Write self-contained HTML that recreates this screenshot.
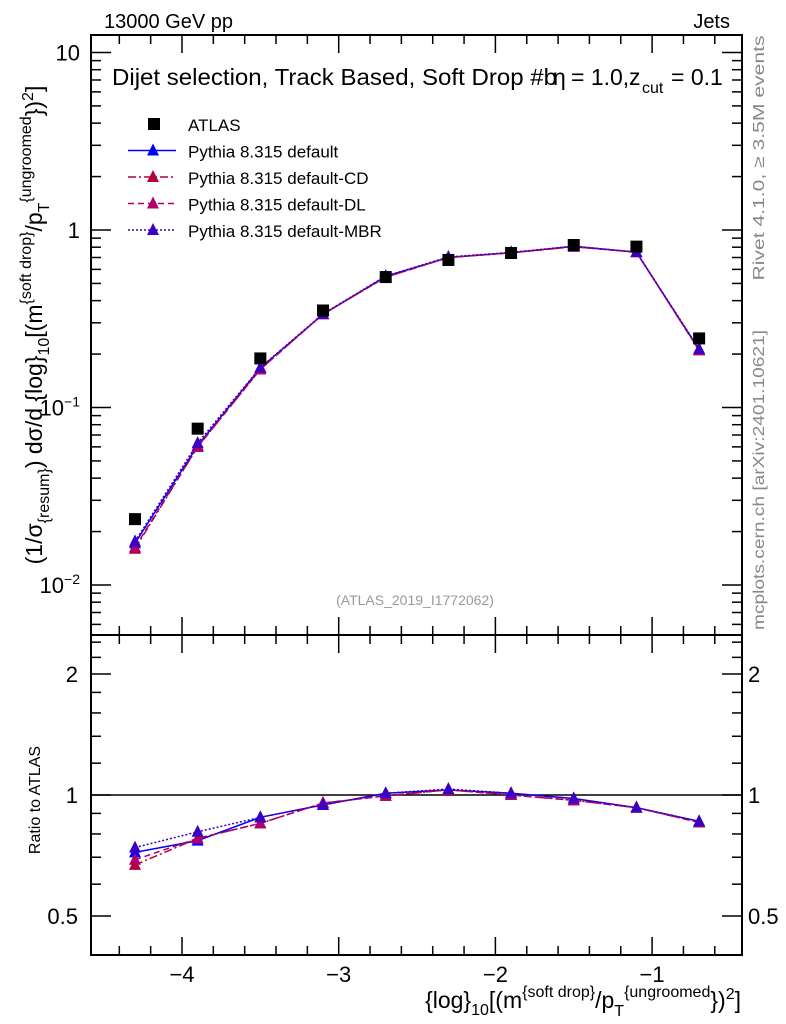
<!DOCTYPE html>
<html><head><meta charset="utf-8"><style>
body{margin:0;background:#fff;}
svg{display:block;font-family:"Liberation Sans",sans-serif;}
</style></head><body>
<svg id="c" width="786" height="1024" xmlns="http://www.w3.org/2000/svg"></svg>
<script>
const xCenters=[-4.3,-3.9,-3.5,-3.1,-2.7,-2.3,-1.9,-1.5,-1.1,-0.7];
const atlas=[0.0235,0.076,0.189,0.352,0.543,0.678,0.742,0.823,0.806,0.245];
const pyDefault=[0.0172,0.061,0.167,0.335,0.548,0.70,0.745,0.81,0.75,0.212];
const pyCD=[0.0160,0.060,0.164,0.336,0.542,0.70,0.744,0.805,0.75,0.210];
const pyDL=[0.0163,0.060,0.164,0.336,0.542,0.70,0.744,0.805,0.75,0.210];
const pyMBR=[0.0176,0.063,0.168,0.337,0.550,0.705,0.748,0.81,0.75,0.214];
const rDefault=[0.72,0.77,0.88,0.945,1.01,1.03,1.01,0.98,0.93,0.86];
const rCD=[0.67,0.78,0.85,0.955,0.995,1.03,1.0,0.97,0.93,0.855];
const rDL=[0.69,0.78,0.85,0.955,0.995,1.03,1.0,0.97,0.93,0.855];
const rMBR=[0.74,0.81,0.88,0.945,1.01,1.035,1.01,0.98,0.93,0.86];
const xTicks=[-4,-3,-2,-1];
const yTicks=[0.01,0.1,1,10];
const yTickLabels=["10\u22122","10\u22121","1","10"];
const rTicks=[0.5,1,2];

const NS="http://www.w3.org/2000/svg";
const svg=document.getElementById('c');
const L=91,R=742,T=35,M=635,B=955;
const X=v=>182+(v+4)*156.7;
const Y=v=>230-Math.log10(v)*177.5;
const RY=v=>795-Math.log2(v)*121;
function el(t,a,p){const e=document.createElementNS(NS,t);for(const k in a)e.setAttribute(k,a[k]);(p||svg).appendChild(e);return e;}
function txt(x,y,s,a,p){const e=el('text',Object.assign({x:x,y:y,'font-size':18},a||{}),p);e.textContent=s;return e;}

const f1=el('rect',{x:L,y:T,width:R-L,height:M-T,fill:'none',stroke:'#000','stroke-width':2});


const f2=el('rect',{x:L,y:M,width:R-L,height:B-M,fill:'none',stroke:'#000','stroke-width':2});



for(let k=-22;k<=-3;k++){const v=k/5;
  const major=(k%5===0);
  const x=X(v);if(x<L||x>R)continue;const h=major?18:9;
  el('line',{x1:x,x2:x,y1:M,y2:M-h,stroke:'#000','stroke-width':1.5});
  el('line',{x1:x,x2:x,y1:T,y2:T+h,stroke:'#000','stroke-width':1.5});
  el('line',{x1:x,x2:x,y1:B,y2:B-h,stroke:'#000','stroke-width':1.5});
  el('line',{x1:x,x2:x,y1:M,y2:M+h,stroke:'#000','stroke-width':1.5});
}
xTicks.forEach(v=>{const t=txt(X(v),982,'\u2212'+Math.abs(v),{'text-anchor':'middle','font-size':22});
});

for(let d=-3;d<=1;d++){for(let m=1;m<10;m++){const v=m*Math.pow(10,d);const y=Y(v);if(y<T||y>M)continue;
 const h=m==1?20:10;
 el('line',{x1:L,x2:L+h,y1:y,y2:y,stroke:'#000','stroke-width':1.5});
 el('line',{x1:R,x2:R-h,y1:y,y2:y,stroke:'#000','stroke-width':1.5});}}
yTicks.forEach((v,i)=>{const y=Y(v)+8;let t;
 if(i<2){t=txt(80,y,'10',{'text-anchor':'end','font-size':22});const s=el('tspan',{dy:-9,'font-size':14},t);s.textContent=i==0?'\u22122':'\u22121';}
 else t=txt(80,y,yTickLabels[i],{'text-anchor':'end','font-size':22});
 });

[0.4,0.5,0.6,0.7,0.8,0.9,1,1.2,1.4,1.6,1.8,2,2.2,2.4].forEach(v=>{const y=RY(v);const maj=rTicks.includes(v);const h=maj?20:10;
 el('line',{x1:L,x2:L+h,y1:y,y2:y,stroke:'#000','stroke-width':1.5});
 el('line',{x1:R,x2:R-h,y1:y,y2:y,stroke:'#000','stroke-width':1.5});});
rTicks.forEach(v=>{const a=txt(78,RY(v)+8,String(v),{'text-anchor':'end','font-size':22});

const b=txt(748,RY(v)+8,String(v),{'font-size':22,fill:'#000'});
});
el('line',{x1:L,x2:R,y1:RY(1),y2:RY(1),stroke:'#000','stroke-width':1.5});

const series=[
 {n:'default',m:pyDefault,r:rDefault,c:'#0000ff',d:''},
 {n:'cd',m:pyCD,r:rCD,c:'#b0003c',d:'8,3,2,3'},
 {n:'dl',m:pyDL,r:rDL,c:'#b0006a',d:'6,4'},
 {n:'mbr',m:pyMBR,r:rMBR,c:'#3c00c0',d:'2,2'}];
function tri(x,y,c,p){return el('polygon',{points:`${x},${y-7} ${x-6},${y+5} ${x+6},${y+5}`,fill:c},p);}
series.forEach(s=>{
 [[s.m,Y,'main'],[s.r,RY,'ratio']].forEach(([arr,f,k])=>{
  const g=el('g',{});
  el('polyline',{points:arr.map((v,i)=>X(xCenters[i])+','+f(v)).join(' '),fill:'none',stroke:s.c,'stroke-width':1.5,'stroke-dasharray':s.d},g);
  arr.forEach((v,i)=>{const t=tri(X(xCenters[i]),f(v),s.c,g);});
 });});
atlas.forEach((v,i)=>{const r=el('rect',{x:X(xCenters[i])-6,y:Y(v)-6,width:12,height:12,fill:'#000'});
});

const leg=[['ATLAS',null],['Pythia 8.315 default',series[0]],['Pythia 8.315 default-CD',series[1]],['Pythia 8.315 default-DL',series[2]],['Pythia 8.315 default-MBR',series[3]]];
leg.forEach((e,i)=>{const y=124+i*26.5;const g=el('g',{});
 if(!e[1])el('rect',{x:148,y:y-6,width:12,height:12,fill:'#000'},g);
 else{el('line',{x1:128,x2:176,y1:y,y2:y,stroke:e[1].c,'stroke-width':1.5,'stroke-dasharray':e[1].d},g);tri(153,y,e[1].c,g);}
 txt(188,y+7,e[0],{'font-size':17},g);});

let t=txt(104,28,'13000 GeV pp',{'font-size':20});
t=txt(730,28,'Jets',{'font-size':20,'text-anchor':'end'});
const tg=el('g',{});


txt(112,85,'Dijet selection, Track Based, Soft Drop #b',{'font-size':23,textLength:445,lengthAdjust:'spacingAndGlyphs'},tg);
txt(553,85,'\u03b7',{'font-size':23},tg);
txt(571,85,'= 1.0,',{'font-size':23},tg);
txt(629,85,'z',{'font-size':23},tg);
txt(642,93,'cut',{'font-size':16},tg);
txt(671,85,'= 0.1',{'font-size':23},tg);
t=txt(415,605,'(ATLAS_2019_I1772062)',{'font-size':14,fill:'#999','text-anchor':'middle'});
t=el('text',{x:764,y:158,'font-size':16,fill:'#888',transform:'rotate(-90 764 158)','text-anchor':'middle',textLength:245,lengthAdjust:'spacingAndGlyphs'});t.textContent='Rivet 4.1.0, \u2265 3.5M events';

t=el('text',{x:764,y:480,'font-size':16,fill:'#888',transform:'rotate(-90 764 480)','text-anchor':'middle',textLength:300,lengthAdjust:'spacingAndGlyphs'});t.textContent='mcplots.cern.ch [arXiv:2401.10621]';

t=el('text',{x:42,y:325,'font-size':23,transform:'rotate(-90 42 325)','text-anchor':'middle'});
t.innerHTML='(1/\u03c3<tspan dy="7" font-size="16">{resum}</tspan><tspan dy="-7">) d\u03c3/d {log}</tspan><tspan dy="7" font-size="16">10</tspan><tspan dy="-7">[(m</tspan><tspan dy="-11" font-size="16">{soft drop}</tspan><tspan dy="11">/p</tspan><tspan dy="7" font-size="16">T</tspan><tspan dy="-18" font-size="16">{ungroomed</tspan><tspan dy="11">})</tspan><tspan dy="-9" font-size="16">2</tspan><tspan dy="9">]</tspan>';

t=el('text',{x:40,y:800,'font-size':16,transform:'rotate(-90 40 800)','text-anchor':'middle'});t.textContent='Ratio to ATLAS';

t=el('text',{x:741,y:1008,'font-size':23,'text-anchor':'end'});
t.innerHTML='{log}<tspan dy="7" font-size="16">10</tspan><tspan dy="-7">[(m</tspan><tspan dy="-11" font-size="16">{soft drop}</tspan><tspan dy="11">/p</tspan><tspan dy="8" font-size="16">T</tspan><tspan dy="-19" font-size="16">{ungroomed</tspan><tspan dy="11">})</tspan><tspan dy="-9" font-size="16">2</tspan><tspan dy="9">]</tspan>';

</script>
</body></html>
